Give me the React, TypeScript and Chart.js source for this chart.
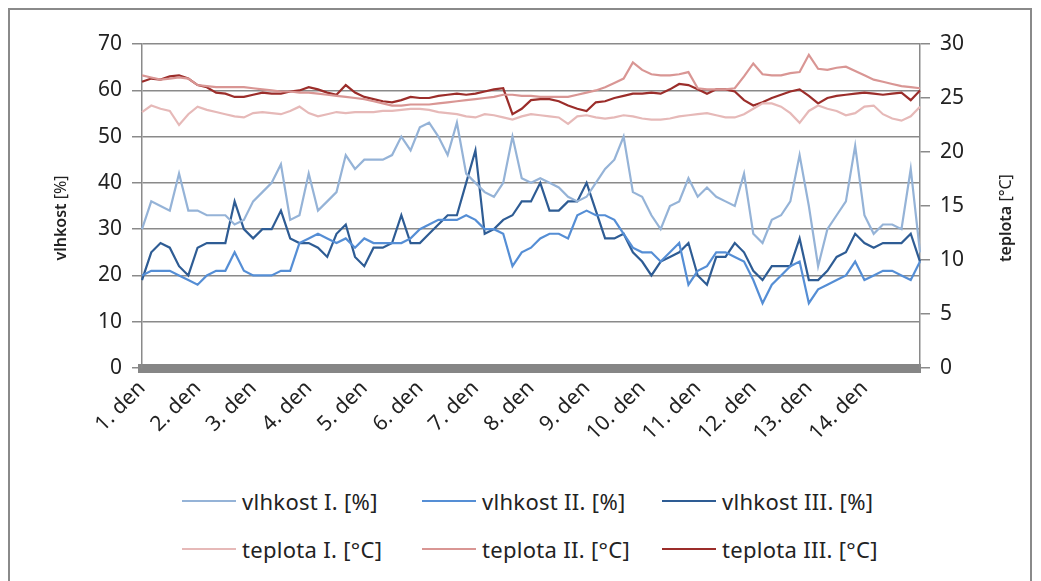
import { useEffect, useRef } from 'react';
import Chart from 'chart.js/auto';

// 14 days, 6 readings per day (+ closing point)
const days = ['1. den', '2. den', '3. den', '4. den', '5. den', '6. den', '7. den', '8. den', '9. den', '10. den', '11. den', '12. den', '13. den', '14. den'];
const perDay = 6;

const vlhkostI = [30, 36, 35, 34, 42, 34, 34, 33, 33, 33, 31, 32, 36, 38, 40, 44, 32, 33, 42, 34, 36, 38, 46, 43, 45, 45, 45, 46, 50, 47, 52, 53, 50, 46, 53, 42, 40, 38, 37, 40, 50, 41, 40, 41, 40, 39, 37, 36, 37, 40, 43, 45, 50, 38, 37, 33, 30, 35, 36, 41, 37, 39, 37, 36, 35, 42, 29, 27, 32, 33, 36, 46, 35, 22, 30, 33, 36, 48, 33, 29, 31, 31, 30, 43, 25];
const vlhkostII = [20, 21, 21, 21, 20, 19, 18, 20, 21, 21, 25, 21, 20, 20, 20, 21, 21, 27, 28, 29, 28, 27, 28, 26, 28, 27, 27, 27, 27, 28, 30, 31, 32, 32, 32, 33, 32, 30, 30, 29, 22, 25, 26, 28, 29, 29, 28, 33, 34, 33, 33, 32, 29, 26, 25, 25, 23, 25, 27, 18, 21, 22, 25, 25, 24, 23, 19, 14, 18, 20, 22, 23, 14, 17, 18, 19, 20, 23, 19, 20, 21, 21, 20, 19, 23];
const vlhkostIII = [19, 25, 27, 26, 22, 20, 26, 27, 27, 27, 36, 30, 28, 30, 30, 34, 28, 27, 27, 26, 24, 29, 31, 24, 22, 26, 26, 27, 33, 27, 27, 29, 31, 33, 33, 40, 47, 29, 30, 32, 33, 36, 36, 40, 34, 34, 36, 36, 40, 34, 28, 28, 29, 25, 23, 20, 23, 24, 25, 27, 20, 18, 24, 24, 27, 25, 21, 19, 22, 22, 22, 28, 19, 19, 21, 24, 25, 29, 27, 26, 27, 27, 27, 29, 23];
const teplotaI = [23.7, 24.3, 24.0, 23.8, 22.5, 23.5, 24.2, 23.9, 23.7, 23.5, 23.3, 23.2, 23.6, 23.7, 23.6, 23.5, 23.8, 24.2, 23.6, 23.3, 23.5, 23.7, 23.6, 23.7, 23.7, 23.7, 23.8, 23.8, 23.9, 24.0, 24.0, 23.9, 23.7, 23.6, 23.5, 23.3, 23.2, 23.5, 23.4, 23.2, 23.0, 23.3, 23.5, 23.4, 23.3, 23.2, 22.6, 23.3, 23.4, 23.2, 23.1, 23.2, 23.4, 23.3, 23.1, 23.0, 23.0, 23.1, 23.3, 23.4, 23.5, 23.6, 23.4, 23.2, 23.2, 23.5, 24.0, 24.5, 24.5, 24.2, 23.6, 22.7, 23.8, 24.3, 24.0, 23.8, 23.4, 23.6, 24.2, 24.3, 23.5, 23.1, 22.9, 23.3, 24.2];
const teplotaII = [27.1, 26.9, 26.7, 26.8, 26.9, 26.8, 26.2, 26.1, 26, 26, 26, 26, 25.9, 25.8, 25.7, 25.6, 25.6, 25.5, 25.5, 25.4, 25.3, 25.2, 25.1, 25, 24.9, 24.7, 24.5, 24.3, 24.3, 24.4, 24.4, 24.4, 24.5, 24.6, 24.7, 24.8, 24.9, 25, 25.1, 25.3, 25.3, 25.2, 25.2, 25.1, 25.1, 25.1, 25.1, 25.3, 25.5, 25.7, 26, 26.4, 26.8, 28.3, 27.6, 27.2, 27.1, 27.1, 27.2, 27.4, 25.9, 25.8, 25.8, 25.8, 25.9, 27, 28.2, 27.2, 27.1, 27.1, 27.3, 27.4, 29, 27.7, 27.6, 27.8, 27.9, 27.5, 27.1, 26.7, 26.5, 26.3, 26.1, 26, 25.9];
const teplotaIII = [26.5, 26.8, 26.7, 27, 27.1, 26.8, 26.2, 26, 25.5, 25.4, 25.1, 25.1, 25.3, 25.5, 25.4, 25.4, 25.6, 25.7, 26, 25.8, 25.5, 25.3, 26.2, 25.5, 25.1, 24.9, 24.7, 24.6, 24.8, 25.1, 25, 25, 25.2, 25.3, 25.4, 25.3, 25.4, 25.6, 25.8, 25.9, 23.5, 24, 24.8, 24.9, 24.9, 24.7, 24.3, 24, 23.8, 24.6, 24.7, 25, 25.2, 25.4, 25.4, 25.5, 25.4, 25.8, 26.3, 26.2, 25.8, 25.4, 25.8, 25.8, 25.6, 24.8, 24.3, 24.6, 25.0, 25.3, 25.6, 25.8, 25.2, 24.5, 25, 25.2, 25.3, 25.4, 25.5, 25.4, 25.3, 25.4, 25.5, 24.8, 25.7];

const series = [
  { label: 'vlhkost I. [%]', data: vlhkostI, color: '#95B3D7', axis: 'y' },
  { label: 'vlhkost II. [%]', data: vlhkostII, color: '#558ED5', axis: 'y' },
  { label: 'vlhkost III. [%]', data: vlhkostIII, color: '#2E5C94', axis: 'y' },
  { label: 'teplota I. [°C]', data: teplotaI, color: '#E6B9B8', axis: 'y1' },
  { label: 'teplota II. [°C]', data: teplotaII, color: '#D99694', axis: 'y1' },
  { label: 'teplota III. [°C]', data: teplotaIII, color: '#9B2D2A', axis: 'y1' },
];

const font = '"Noto Sans", sans-serif';

export default function App() {
  const chartRef = useRef<HTMLCanvasElement>(null);
  const chartInstance = useRef<Chart | null>(null);

  useEffect(() => {
    if (!chartRef.current) return;
    if (chartInstance.current) chartInstance.current.destroy();

    const labels = vlhkostI.map((_, i) => days[Math.floor(i / perDay)] ?? '');

    chartInstance.current = new Chart(chartRef.current, {
      type: 'line',
      data: {
        labels,
        datasets: series.map((s) => ({
          label: s.label,
          data: s.data,
          borderColor: s.color,
          backgroundColor: s.color,
          borderWidth: 2.2,
          pointRadius: 0,
          tension: 0,
          yAxisID: s.axis,
        })),
      },
      options: {
        animation: false,
        responsive: false,
        layout: { padding: { top: 34, bottom: 0, left: 0, right: 0 } },
        plugins: { legend: { display: false }, tooltip: { enabled: false } },
        scales: {
          x: {
            offset: false,
            afterFit: (s: any) => { s.height = 82; },
            grid: { display: false, drawTicks: false },
            border: { color: '#868686', width: 9 },
            ticks: {
              autoSkip: false,
              maxRotation: 45,
              minRotation: 45,
              padding: 8,
              color: '#222',
              font: { family: font, size: 21 },
              callback: (_v: any, i: number) => (i % perDay === 0 && i / perDay < days.length ? days[i / perDay] : ''),
            },
          },
          y: {
            position: 'left',
            min: 0,
            max: 70,
            afterFit: (s: any) => { s.width = 132; },
            grid: { color: '#8a8a8a', lineWidth: 1.5, tickLength: 10 },
            border: { color: '#8a8a8a', width: 1.5 },
            ticks: { stepSize: 10, padding: 10, color: '#222', font: { family: font, size: 21 } },
          },
          y1: {
            position: 'right',
            min: 0,
            max: 30,
            afterFit: (s: any) => { s.width = 110; },
            grid: { drawOnChartArea: false, color: '#8a8a8a', lineWidth: 1.5, tickLength: 10 },
            border: { color: '#8a8a8a', width: 1.5 },
            ticks: { stepSize: 5, padding: 10, color: '#222', font: { family: font, size: 21 } },
          },
        },
      },
    });

    return () => {
      if (chartInstance.current) chartInstance.current.destroy();
    };
  }, []);

  const cols = [172, 412, 652];
  const titleStyle = { position: 'absolute' as const, top: 197, width: 200, marginLeft: -100, textAlign: 'center' as const, fontSize: 16, color: '#222', transform: 'rotate(-90deg)', whiteSpace: 'nowrap' as const };
  return (
    <div style={{ position: 'relative', width: 1020, height: 580, border: '2px solid #8a8a8a', borderBottom: 'none', fontFamily: font }}>
      <canvas ref={chartRef} width={1020} height={440}></canvas>
      <div style={{ ...titleStyle, left: 50 }}><b style={{ fontWeight: 600 }}>vlhkost</b> [%]</div>
      <div style={{ ...titleStyle, left: 995 }}><b style={{ fontWeight: 600 }}>teplota</b> [°C]</div>
      {series.map((s, i) => (
        <div key={s.label} style={{ position: 'absolute', left: cols[i % 3], top: i < 3 ? 476 : 524, display: 'flex', alignItems: 'center', fontSize: 22, letterSpacing: 0.3, color: '#222', whiteSpace: 'nowrap' }}>
          <span style={{ display: 'inline-block', width: 54, height: 2.5, background: s.color, marginRight: 6 }}></span>
          {s.label}
        </div>
      ))}
    </div>
  );
}
